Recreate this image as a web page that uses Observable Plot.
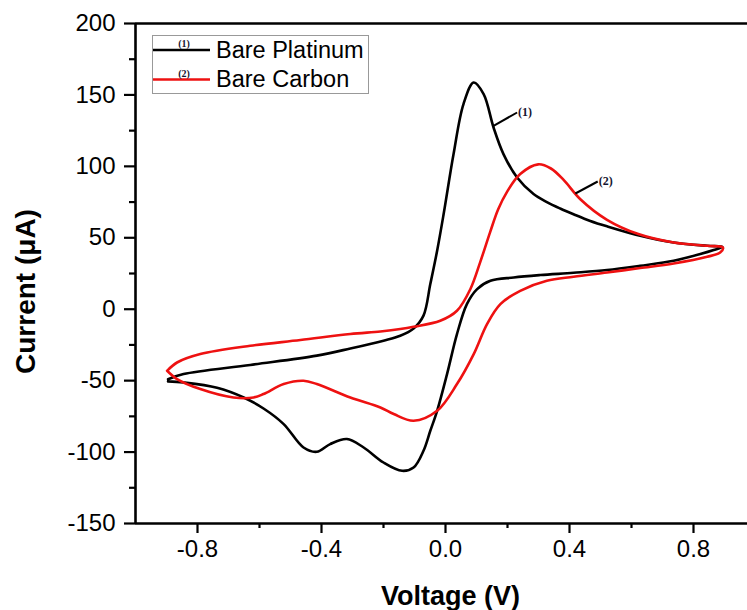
<!DOCTYPE html>
<html><head><meta charset="utf-8">
<script src="https://cdn.jsdelivr.net/npm/d3@7"></script>
<script src="https://cdn.jsdelivr.net/npm/@observablehq/plot@0.6"></script>
<style>
body{margin:0;background:#fff;overflow:hidden}
#chart svg{font-family:"Liberation Sans",Arial,sans-serif}
</style>
</head><body><div id="chart"></div>
<script>
// Bare Platinum (1): forward scan then reverse scan (V, µA)
const platinumV = [-0.895,-0.845,-0.630,-0.415,-0.307,-0.200,-0.146,-0.103,-0.071,-0.049,-0.027,-0.006,0.026,0.058,0.091,0.123,0.155,0.187,0.231,0.284,0.327,0.370,0.413,0.467,0.521,0.628,0.736,0.844,0.893,
  0.865,0.822,0.736,0.628,0.521,0.413,0.306,0.220,0.145,0.102,0.069,0.037,0.005,-0.027,-0.049,-0.071,-0.103,-0.140,-0.200,-0.264,-0.318,-0.372,-0.415,-0.458,-0.522,-0.587,-0.651,-0.737,-0.845,-0.895];
const platinumI = [-49.0,-45.4,-39.0,-32.5,-27.5,-22.0,-18.6,-13.5,-4.5,17.6,40.9,66.6,108.6,143.6,158.7,150.6,127.2,108.6,92.2,80.6,75.0,70.5,66.5,61.8,58.0,51.4,46.7,44.4,43.7,
  41.4,38.6,33.9,30.4,27.4,25.5,23.9,22.2,19.9,14.1,3.6,-17.4,-45.4,-71.1,-85.1,-99.1,-110.8,-113.1,-107.3,-96.8,-90.9,-94.4,-99.8,-96.8,-80.4,-69.5,-61.8,-55.0,-51.3,-50.5];

// Bare Carbon (2)
const carbonV = [-0.898,-0.866,-0.791,-0.630,-0.468,-0.307,-0.210,-0.146,-0.103,-0.017,0.037,0.080,0.112,0.144,0.170,0.198,0.241,0.299,0.340,0.381,0.435,0.521,0.622,0.736,0.844,0.895,
  0.886,0.844,0.736,0.628,0.521,0.413,0.327,0.241,0.177,0.134,0.091,0.037,-0.027,-0.103,-0.167,-0.210,-0.307,-0.415,-0.458,-0.522,-0.587,-0.619,-0.684,-0.791,-0.866,-0.898];
const carbonI = [-43.1,-37.3,-31.4,-25.6,-21.6,-17.4,-15.6,-13.9,-12.3,-8.1,-1.1,14.0,33.0,54.0,70.0,82.0,94.6,101.4,98.5,90.5,77.0,62.6,52.6,46.7,44.4,43.2,
  39.7,36.7,32.0,28.8,25.7,22.7,19.9,12.9,3.6,-10.4,-31.4,-52.4,-71.1,-78.1,-73.4,-68.8,-61.8,-52.4,-50.1,-52.4,-59.4,-61.8,-61.8,-55.9,-48.9,-43.1];

const seriesNames = ["Bare Platinum", "Bare Carbon"];
const seriesTags = ["(1)", "(2)"];
const seriesColors = ["#000000", "#ee1111"];

// curve tag leader lines (start on curve -> end at tag)
const tagV0 = [0.155, 0.419];
const tagI0 = [128.4, 81.0];
const tagV1 = [0.231, 0.491];
const tagI1 = [137.7, 89.4];

const xMajorTicks = [-0.8, -0.4, 0.0, 0.4, 0.8];
const xMinorTicks = [-0.6, -0.2, 0.2, 0.6];
const yMajorTicks = [-150, -100, -50, 0, 50, 100, 150, 200];
const yMinorTicks = [-125, -75, -25, 25, 75, 125, 175];

const platinum = platinumV.map((v, i) => ({v, i: platinumI[i]}));
const carbon = carbonV.map((v, i) => ({v, i: carbonI[i]}));
const tags = seriesTags.map((t, k) => ({t, x1: tagV0[k], y1: tagI0[k], x2: tagV1[k], y2: tagI1[k]}));

const chart = Plot.plot({
  width: 747,
  height: 610,
  marginLeft: 135,
  marginRight: -8,
  marginTop: 23,
  marginBottom: 87,
  style: {fontFamily: "Liberation Sans, Arial, sans-serif", background: "#fff", color: "#000"},
  x: {domain: [-1, 1], label: null},
  y: {domain: [-150, 200], label: null},
  marks: [
    Plot.line(platinum, {x: "v", y: "i", stroke: seriesColors[0], strokeWidth: 2.6, curve: "catmull-rom"}),
    Plot.line(carbon, {x: "v", y: "i", stroke: seriesColors[1], strokeWidth: 2.6, curve: "catmull-rom"}),
    Plot.link(tags, {x1: "x1", y1: "y1", x2: "x2", y2: "y2", stroke: "#000", strokeWidth: 2}),
    Plot.text(tags, {x: "x2", y: "y2", text: "t", textAnchor: "start", dx: 1, fontFamily: "Liberation Serif, Times New Roman, serif", fontWeight: "bold", fontSize: 12, fill: "#151530"}),
    Plot.axisX({ticks: xMajorTicks, tickSize: 10, tickPadding: 6, tickFormat: d => d.toFixed(1), fontSize: 24, strokeWidth: 2.2, label: null}),
    Plot.axisX({ticks: xMinorTicks, tickSize: 5, tickFormat: () => "", strokeWidth: 2.2, label: null}),
    Plot.axisY({ticks: yMajorTicks, tickSize: 11, tickPadding: 9, tickFormat: d => String(d), fontSize: 24, strokeWidth: 2.2, label: null}),
    Plot.axisY({ticks: yMinorTicks, tickSize: 6, tickFormat: () => "", strokeWidth: 2.2, label: null}),
    Plot.ruleX([-1], {strokeWidth: 2.6}),
    Plot.ruleY([-150], {strokeWidth: 2.6}),
    Plot.ruleY([200], {strokeWidth: 2.6}),
    Plot.text(["Current (μA)"], {frameAnchor: "left", textAnchor: "middle", lineAnchor: "middle", dx: -109, dy: 18, rotate: -90, fontSize: 28, fontWeight: "bold"}),
    Plot.text(["Voltage (V)"], {frameAnchor: "bottom", textAnchor: "middle", lineAnchor: "middle", dx: 5, dy: 73, fontSize: 27, fontWeight: "bold"})
  ]
});

document.getElementById("chart").appendChild(chart);

// Legend drawn inside the plot frame
const svg = d3.select(chart);
const lg = svg.append("g").attr("class", "legend").attr("text-anchor", "start");
lg.append("rect").attr("x", 152.5).attr("y", 35.5).attr("width", 216).attr("height", 58)
  .attr("fill", "#fff").attr("stroke", "#999").attr("stroke-width", 1);
const rowsY = [50, 79.5];
seriesNames.forEach((name, k) => {
  lg.append("line").attr("x1", 153).attr("x2", 210).attr("y1", rowsY[k]).attr("y2", rowsY[k])
    .attr("stroke", seriesColors[k]).attr("stroke-width", 2.6);
  lg.append("text").attr("x", 184).attr("y", rowsY[k] - 3).attr("text-anchor", "middle")
    .attr("font-family", "Liberation Serif, Times New Roman, serif").attr("font-weight", "bold")
    .attr("font-size", 10).attr("fill", "#151530").text(seriesTags[k]);
  lg.append("text").attr("x", 216).attr("y", rowsY[k] + 7.5).attr("text-anchor", "start")
    .attr("font-size", 23.5).attr("fill", "#000").text(name);
});
</script>
</body></html>
